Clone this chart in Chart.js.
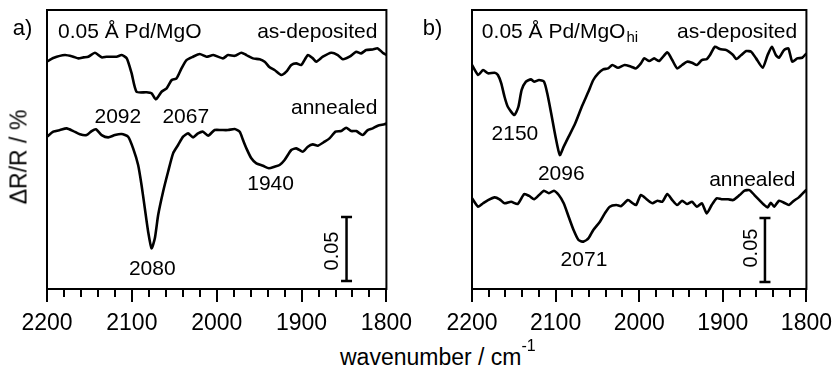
<!DOCTYPE html>
<html><head><meta charset="utf-8">
<script src="https://cdn.jsdelivr.net/npm/chart.js@4.4.1/dist/chart.umd.min.js"></script>
<style>
html,body{margin:0;padding:0;background:#fff;}
body{width:840px;height:370px;overflow:hidden;position:relative;font-family:'Liberation Sans',Arial,sans-serif;color:#000;}
.pan{position:absolute;top:0;width:420px;height:340px;}
#ytitle{position:absolute;left:19px;top:157px;transform:translate(-50%,-50%) rotate(-90deg);white-space:nowrap;font-size:23px;line-height:1;}
#xtitle{position:absolute;left:340px;top:346px;white-space:nowrap;font-size:23px;line-height:1;}
#xtitle span{font-size:16px;position:relative;top:-14px;}
</style></head>
<body>
<div class="pan" style="left:0"><canvas id="ca" width="420" height="340"></canvas></div>
<div class="pan" style="left:420px"><canvas id="cb" width="420" height="340"></canvas></div>
<div id="ytitle">ΔR/R / %</div>
<div id="xtitle">wavenumber / cm<span>-1</span></div>
<script>
// ---- data (wavenumber in cm^-1, ΔR/R in %, traces offset) ----
const tickValues = [2200, 2100, 2000, 1900, 1800];

const aDepX = [2200,2192.6,2178.8,2169,2163,2157,2151.4,2143.5,2135.6,2129.8,2118,2112,2106,2100.4,2094.5,2082.7,2076.8,2071.8,2065,2059,2053,2047.4,2041.5,2035.6,2027.9,2020,2012,2004,1992.6,1986.7,1978.8,1970.9,1965,1957.3,1949.4,1943.5,1937.6,1931.8,1923.9,1918,1912.1,1906.2,1900.4,1892.6,1886.7,1882.7,1874.9,1865,1857.3,1851.4,1843.5,1835.6,1829.8,1823.9,1816.1,1810.2,1804.4,1800];
const aDepY = [0.1776,0.1805,0.1828,0.1815,0.1802,0.1810,0.1815,0.1846,0.1810,0.1815,0.1815,0.1828,0.1802,0.1688,0.1541,0.1537,0.1529,0.1482,0.1541,0.1568,0.1633,0.1646,0.1724,0.1789,0.1815,0.1836,0.1815,0.1828,0.1802,0.1828,0.1822,0.1846,0.1828,0.1802,0.1795,0.1776,0.1732,0.1711,0.1672,0.1698,0.1750,0.1763,0.1750,0.1828,0.1802,0.1776,0.1815,0.1846,0.1828,0.1795,0.1815,0.1854,0.1841,0.1867,0.1872,0.1880,0.1846,0.1828];

const aAnnX = [2200,2192.6,2184.7,2176.8,2169,2161.2,2153.3,2147.4,2142.4,2135.6,2127.9,2120,2112.1,2104.4,2098.5,2092.6,2088.6,2084.7,2080.8,2076.8,2072.9,2069,2063.2,2057.3,2051.4,2045.5,2039.6,2033.8,2027.9,2022,2016.1,2010.2,2002.4,1994.5,1986.7,1978.8,1972.9,1969,1965,1959.2,1953.3,1945.5,1938.5,1931.8,1925.9,1920,1912.1,1906.2,1898.5,1892.6,1886.7,1880.8,1872.9,1867.1,1860,1853.3,1847.4,1841.5,1835.6,1827.9,1822,1816.1,1810.2,1802.4,1800];
const aAnnY = [0.1190,0.1229,0.1242,0.1255,0.1234,0.1209,0.1203,0.1234,0.1248,0.1203,0.1185,0.1203,0.1211,0.1190,0.1099,0.0969,0.0813,0.0630,0.0448,0.0318,0.0396,0.0578,0.0760,0.0916,0.1060,0.1125,0.1190,0.1216,0.1185,0.1216,0.1229,0.1198,0.1242,0.1242,0.1242,0.1250,0.1229,0.1164,0.1099,0.1021,0.0982,0.0963,0.0943,0.0955,0.0969,0.1008,0.1086,0.1099,0.1073,0.1112,0.1130,0.1120,0.1151,0.1177,0.1229,0.1234,0.1260,0.1234,0.1234,0.1203,0.1242,0.1255,0.1276,0.1287,0.1293];

const bDepX = [2200,2192.6,2186.7,2180.8,2172.9,2169,2165,2161.1,2157.2,2149.3,2144.5,2140.6,2135.5,2129.6,2125.7,2119.8,2113.9,2110,2105.3,2100.1,2095,2090.3,2084.4,2076.5,2068.7,2060.8,2054.9,2049,2043.1,2037.2,2032.1,2025.4,2017.5,2009.7,2003.8,1997.9,1993.9,1988,1982.1,1976.2,1966.4,1960.5,1954.6,1948.7,1942.8,1936.9,1931,1925.1,1919.2,1915.3,1909.4,1903.5,1895.6,1887.7,1883.8,1877.9,1872,1866.1,1860.2,1852.3,1846.4,1841.3,1836.6,1832.7,1826.8,1821.6,1816.9,1811,1805.1,1800];
const bDepY = [0.1750,0.1672,0.1711,0.1685,0.1690,0.1672,0.1607,0.1502,0.1424,0.1359,0.1424,0.1555,0.1620,0.1638,0.1620,0.1633,0.1620,0.1529,0.1373,0.1190,0.1047,0.1112,0.1190,0.1295,0.1424,0.1541,0.1633,0.1685,0.1716,0.1724,0.1750,0.1729,0.1750,0.1737,0.1724,0.1763,0.1802,0.1781,0.1802,0.1781,0.1849,0.1789,0.1724,0.1750,0.1776,0.1768,0.1750,0.1789,0.1797,0.1828,0.1893,0.1875,0.1867,0.1828,0.1797,0.1828,0.1859,0.1854,0.1802,0.1729,0.1828,0.1893,0.1828,0.1807,0.1867,0.1880,0.1776,0.1802,0.1807,0.1841];

const bAnnX = [2200,2192.6,2186.7,2180.8,2172.9,2167,2161.1,2153.2,2145.4,2137.5,2131.6,2125.7,2119.8,2113.9,2108,2102.1,2096.2,2090.3,2084.4,2078.5,2072.6,2066.7,2060.8,2054.9,2047,2041.1,2035.2,2027.4,2021.5,2013.6,2007.7,2003.8,1997.9,1990,1984.1,1978.2,1972.3,1966.4,1960.5,1954.6,1948.7,1942.8,1936.9,1931,1925.1,1919.2,1913.3,1907.4,1901.5,1893.6,1887.7,1879.9,1874,1868.1,1862.2,1856.3,1850.4,1846.4,1842.5,1838.6,1832.7,1826.8,1820.9,1815,1809.1,1801.2,1800];
const bAnnY = [0.0709,0.0643,0.0670,0.0695,0.0716,0.0701,0.0670,0.0682,0.0664,0.0742,0.0727,0.0701,0.0734,0.0768,0.0748,0.0768,0.0734,0.0670,0.0565,0.0461,0.0383,0.0370,0.0396,0.0461,0.0526,0.0591,0.0643,0.0656,0.0648,0.0695,0.0670,0.0656,0.0734,0.0695,0.0670,0.0690,0.0682,0.0742,0.0695,0.0656,0.0690,0.0664,0.0682,0.0643,0.0670,0.0591,0.0656,0.0709,0.0701,0.0701,0.0695,0.0734,0.0768,0.0773,0.0734,0.0695,0.0656,0.0638,0.0674,0.0643,0.0690,0.0674,0.0656,0.0690,0.0716,0.0768,0.0775];

// scale bars: 0.05 % ΔR/R
const aBarX = [1847, 1847];
const aBarY = [0.00625, 0.05625];
const bBarX = [1849.6, 1849.6];
const bBarY = [0.0055, 0.0555];

const aLabels = [
  {t:'0.05 Å Pd/MgO', x:2187, y:0.2008, align:'left'},
  {t:'as-deposited', x:1810.6, y:0.2004, align:'right'},
  {t:'annealed', x:1810.6, y:0.1414, align:'right'},
  {t:'2092', x:2116.5, y:0.1344},
  {t:'2067', x:2036.5, y:0.1344},
  {t:'1940', x:1936.5, y:0.0820},
  {t:'2080', x:2075.9, y:0.0156},
  {t:'0.05', x:1863.5, y:0.0297, rot:true, size:20}
];
const bLabels = [
  {t:'0.05 Å Pd/MgO', sub:'hi', x:2188.2, y:0.2008, align:'left'},
  {t:'as-deposited', x:1811, y:0.2004, align:'right'},
  {t:'annealed', x:1813, y:0.0852, align:'right'},
  {t:'2150', x:2148.7, y:0.1207},
  {t:'2096', x:2093.2, y:0.0895},
  {t:'2071', x:2066.1, y:0.0223},
  {t:'0.05', x:1866.1, y:0.0320, rot:true, size:20}
];

const FONT = "'Liberation Sans', Arial, sans-serif";
const zip = (xs, ys) => xs.map((x, i) => ({x, y: ys[i]}));

const annotPlugin = {
  id: 'annot',
  afterDraw(chart, args, opts) {
    const {ctx, chartArea: ca, scales: {x, y}} = chart;
    ctx.save();
    ctx.strokeStyle = '#000';
    ctx.lineWidth = 2;
    ctx.strokeRect(ca.left, ca.top, ca.right - ca.left, ca.bottom - ca.top);
    // minor ticks every 20 cm^-1
    for (let v = 1800; v <= 2200; v += 20) {
      if (v % 100 === 0) continue;
      const px = Math.round(x.getPixelForValue(v));
      ctx.beginPath();
      ctx.moveTo(px, ca.bottom);
      ctx.lineTo(px, ca.bottom + 8);
      ctx.stroke();
    }
    ctx.fillStyle = '#000';
    // panel letter
    ctx.font = '22px ' + FONT;
    ctx.textAlign = 'center';
    ctx.textBaseline = 'middle';
    ctx.fillText(opts.letter, ca.left + opts.letterDx, ca.top + 19);
    // annotations
    (opts.labels || []).forEach(l => {
      const px = x.getPixelForValue(l.x), py = y.getPixelForValue(l.y);
      const size = l.size || 21;
      ctx.font = size + 'px ' + FONT;
      ctx.textBaseline = 'middle';
      if (l.rot) {
        ctx.save();
        ctx.translate(px, py);
        ctx.rotate(-Math.PI / 2);
        ctx.textAlign = 'center';
        ctx.fillText(l.t, 0, 0);
        ctx.restore();
        return;
      }
      ctx.textAlign = l.align || 'center';
      ctx.fillText(l.t, px, py);
      if (l.sub) {
        const w = ctx.measureText(l.t).width;
        ctx.font = '15px ' + FONT;
        ctx.textAlign = 'left';
        ctx.fillText(l.sub, px + w + 1, py + 6);
      }
    });
    ctx.restore();
  }
};

function makeChart(id, dep, ann, bar, labels, pad, letter, letterDx) {
  const lineDs = (data) => ({data, borderColor: '#000', borderWidth: 2.6, pointRadius: 0, tension: 0.2, fill: false});
  return new Chart(document.getElementById(id), {
    type: 'line',
    data: {
      datasets: [
        lineDs(dep),
        lineDs(ann),
        {data: bar, borderColor: '#000', borderWidth: 2.5, pointStyle: 'line', pointRadius: 5.5, pointBorderWidth: 2.5, pointBorderColor: '#000', tension: 0}
      ]
    },
    options: {
      responsive: false,
      animation: false,
      events: [],
      layout: {padding: pad},
      plugins: {legend: {display: false}, tooltip: {enabled: false}, annot: {labels, letter, letterDx}},
      scales: {
        x: {
          type: 'linear', reverse: true, min: 1800, max: 2200,
          afterFit(scale) { scale.height = 51; },
          afterBuildTicks(scale) { scale.ticks = tickValues.map(v => ({value: v})); },
          grid: {display: true, drawOnChartArea: false, drawTicks: true, tickLength: 13, lineWidth: 2, color: '#000'},
          border: {display: true, width: 2, color: '#000'},
          ticks: {color: '#000', font: {family: FONT, size: 23}, padding: 8, maxRotation: 0, autoSkip: false, callback: v => String(v)}
        },
        y: {type: 'linear', min: 0, max: 0.218, display: false}
      }
    },
    plugins: [annotPlugin]
  });
}

makeChart('ca', zip(aDepX, aDepY), zip(aAnnX, aAnnY), zip(aBarX, aBarY), aLabels, {left: 47, right: 33, top: 10, bottom: 0}, 'a)', -24.5);
makeChart('cb', zip(bDepX, bDepY), zip(bAnnX, bAnnY), zip(bBarX, bBarY), bLabels, {left: 52, right: 29, top: 10, bottom: 0}, 'b)', -39.5);
</script>
</body></html>
